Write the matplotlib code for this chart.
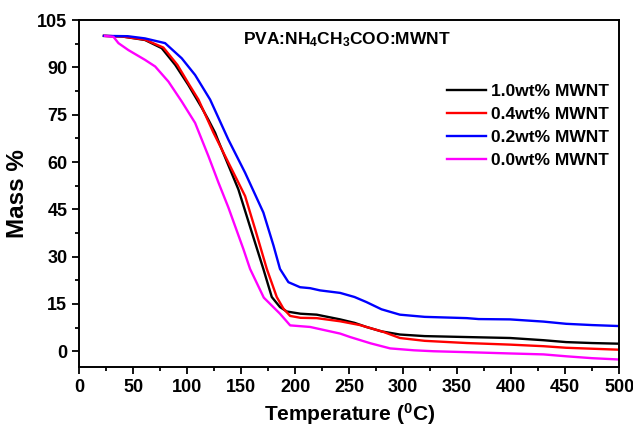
import matplotlib.pyplot as plt
from matplotlib.ticker import MultipleLocator

plt.rcParams['font.family'] = ['Liberation Sans', 'DejaVu Sans']
plt.rcParams['font.weight'] = 'bold'
plt.rcParams['mathtext.fontset'] = 'custom'
plt.rcParams['mathtext.rm'] = 'Liberation Sans:bold'
plt.rcParams['mathtext.bf'] = 'Liberation Sans:bold'
plt.rcParams['mathtext.default'] = 'bf'

# TGA curves, temperature (C) vs remaining mass (%)
t_10 = [23, 40, 61, 76.5, 89, 101, 113.6, 119.7, 125.9, 129, 147.5, 159, 170.6, 178.4, 186, 192.3, 205, 220, 241.7, 255, 266, 280, 297, 320, 359, 399, 430, 451, 475, 499]
m_10 = [100, 99.8, 98.7, 96.1, 90.8, 84.5, 77.2, 73.4, 69.3, 66.6, 51.3, 38.7, 26.1, 17.2, 14, 12.6, 11.9, 11.6, 10.1, 9.0, 7.7, 6.3, 5.3, 4.8, 4.5, 4.2, 3.5, 2.9, 2.6, 2.4]

t_04 = [23, 40, 61, 78, 91, 102, 110.5, 124.4, 146, 153.7, 163, 173.8, 183, 189.2, 195.4, 205, 220, 241.7, 260, 282, 297, 320, 359, 399, 430, 451, 475, 499]
m_04 = [100, 99.8, 98.8, 96.3, 90.8, 84.5, 79.8, 69.3, 54.5, 49.2, 38.7, 26.1, 17.2, 13.5, 11.2, 10.6, 10.5, 9.5, 8.3, 6.1, 4.2, 3.3, 2.6, 2.1, 1.6, 1.1, 0.8, 0.5]

t_02 = [23, 45, 61, 79.6, 95, 107.4, 121.3, 138.2, 153.7, 170.6, 180, 186, 193.8, 204.6, 213.9, 223, 241.7, 255, 266, 280, 297, 320, 359, 370, 399, 430, 451, 475, 499]
m_02 = [100, 99.9, 99.2, 97.7, 92.9, 87.6, 79.8, 67.1, 56.6, 44, 33.5, 26.1, 21.9, 20.3, 20.0, 19.3, 18.5, 17.2, 15.6, 13.3, 11.6, 10.9, 10.5, 10.2, 10.1, 9.4, 8.7, 8.3, 8.0]

t_00 = [24, 31.8, 36.4, 45.6, 61, 70.4, 82.7, 95, 107.4, 119.7, 129, 138.2, 152.1, 158.3, 171, 186, 195.4, 213.9, 241.7, 251, 270, 288, 310, 328, 360, 399, 430, 451, 475, 499]
m_00 = [100, 99.7, 97.7, 95.5, 92.4, 90.3, 85.5, 79.2, 72.4, 61.9, 53.5, 45.6, 32.4, 26.1, 17, 11.9, 8.2, 7.7, 5.6, 4.5, 2.5, 0.9, 0.3, 0.0, -0.3, -0.7, -1.0, -1.6, -2.2, -2.6]

labels = ['1.0wt% MWNT', '0.4wt% MWNT', '0.2wt% MWNT', '0.0wt% MWNT']
colors = ['black', 'red', 'blue', 'magenta']

fig = plt.figure(figsize=(6.33, 4.28), dpi=100)
ax = fig.add_axes([0.125, 0.1425, 0.853, 0.8105])

for t, m, lab, c in zip([t_10, t_04, t_02, t_00], [m_10, m_04, m_02, m_00], labels, colors):
    ax.plot(t, m, color=c, lw=1.7, label=lab, solid_joinstyle='round')

ax.set_xlim(0, 500)
ax.set_ylim(-5, 105)
ax.xaxis.set_major_locator(MultipleLocator(50))
ax.xaxis.set_minor_locator(MultipleLocator(25))
ax.yaxis.set_major_locator(MultipleLocator(15))
ax.yaxis.set_minor_locator(MultipleLocator(7.5))
ax.tick_params(which='major', direction='out', length=5, width=1.3, labelsize=13)
ax.tick_params(which='minor', direction='out', length=3, width=1.3)
for s in ax.spines.values():
    s.set_linewidth(1.4)
for lbl in ax.get_xticklabels() + ax.get_yticklabels():
    lbl.set_fontweight('bold')

ax.set_xlabel(r'Temperature ($^{0}$C)', fontsize=15, fontweight='bold', labelpad=4)
ax.set_ylabel('Mass %', fontsize=17.5, fontweight='bold', labelpad=6)

ax.text(0.495, 0.97, r'PVA:NH$_4$CH$_3$COO:MWNT', transform=ax.transAxes,
        ha='center', va='top', fontsize=12.5, fontweight='bold')

leg = ax.legend(loc='upper right', bbox_to_anchor=(1.01, 0.86), frameon=False,
                fontsize=12.5, handlelength=2.2, handletextpad=0.3, labelspacing=0.45)
for txt in leg.get_texts():
    txt.set_fontweight('bold')

fig.savefig('out.png', dpi=100)
